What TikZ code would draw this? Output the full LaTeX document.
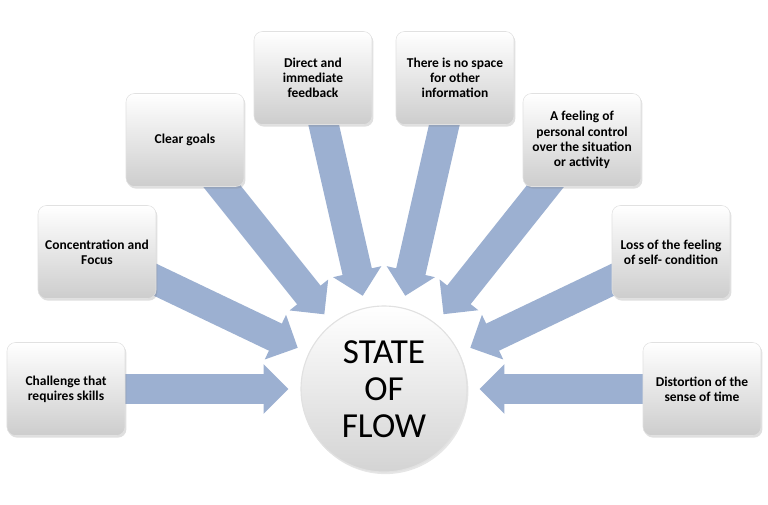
\documentclass[tikz,border=0pt]{standalone}
\usepackage{fontspec}
\setmainfont{Carlito}
\usepackage{tikz}
\usetikzlibrary{positioning,calc}
\usetikzlibrary{arrows.meta,shadows}
\definecolor{FlowBlue}{RGB}{156,176,209}
\definecolor{BoxGray}{RGB}{205,205,205}
\definecolor{RimGray}{RGB}{225,225,225}
\pgfdeclarelayer{back}
\pgfsetlayers{back,main}
\tikzset{
  cause/.style={draw=RimGray,rounded corners=6pt,top color=white,bottom color=BoxGray,
    minimum width=2.95cm,minimum height=2.325cm,inner sep=2pt,align=center,
    font=\fontsize{9.6}{10.8}\selectfont\bfseries,
    drop shadow={shadow xshift=1pt,shadow yshift=-1.5pt,opacity=0.25}},
  state/.style={circle,draw=RimGray,line width=0.8pt,top color=white,bottom color=black!17,
    minimum size=4.15cm,inner sep=0pt,align=center,
    font=\fontsize{25}{26.5}\selectfont,
    drop shadow={shadow xshift=1pt,shadow yshift=-1.5pt,opacity=0.2}},
}
\tikzset{flowarrow/.style={draw=FlowBlue,line width=0.75cm,
  -{Triangle[width=1.2cm,length=0.62cm]},shorten >=0.3cm,shorten <=-0.3cm}}

\begin{document}
\begin{tikzpicture}
\useasboundingbox (0,0) rectangle (19.2,12.6);
\node[state] (flow) at (9.600,2.875) {STATE\\OF\\FLOW};
\node[cause] (challenge) at (1.650,2.875) {Challenge that\\requires skills};
\node[cause] (focus) at (2.425,6.300) {Concentration and\\Focus};
\node[cause] (goals) at (4.625,9.100) {Clear goals};
\node[cause] (feedback) at (7.825,10.650) {Direct and\\immediate\\feedback};
\node[cause] (nospace) at (11.375,10.650) {There is no space\\for other\\information};
\node[cause] (control) at (14.550,9.100) {A feeling of\\personal control\\over the situation\\or activity};
\node[cause] (self) at (16.775,6.300) {Loss of the feeling\\of self- condition};
\node[cause] (time) at (17.550,2.875) {Distortion of the\\sense of time};
\begin{pgfonlayer}{back}
\draw[flowarrow] (challenge) -- (flow);
\draw[flowarrow] (focus) -- (flow);
\draw[flowarrow] (goals) -- (flow);
\draw[flowarrow] (feedback) -- (flow);
\draw[flowarrow] (nospace) -- (flow);
\draw[flowarrow] (control) -- (flow);
\draw[flowarrow] (self) -- (flow);
\draw[flowarrow] (time) -- (flow);
\end{pgfonlayer}
\end{tikzpicture}
\end{document}
